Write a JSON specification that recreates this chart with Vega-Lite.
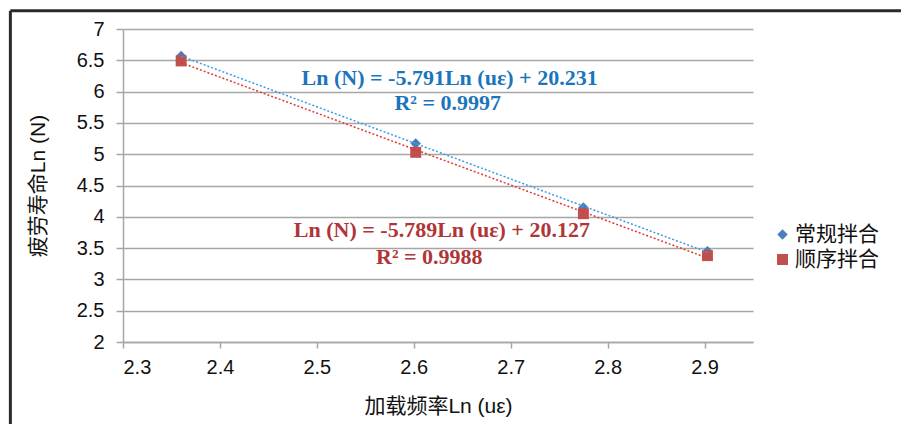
{
  "$schema": "https://vega.github.io/schema/vega-lite/v6.json",
  "width": 630,
  "height": 313,
  "autosize": {"type": "none"},
  "padding": {"left": 123, "top": 29, "right": 148, "bottom": 82},
  "background": "white",
  "config": {"view": {"stroke": null}, "font": "Liberation Sans, Noto Sans CJK SC"},
  "data": {
    "values": [
      {"x": 2.360, "y": 6.57, "series": "常规拌合"},
      {"x": 2.602, "y": 5.17, "series": "常规拌合"},
      {"x": 2.775, "y": 4.15, "series": "常规拌合"},
      {"x": 2.903, "y": 3.45, "series": "常规拌合"},
      {"x": 2.360, "y": 6.49, "series": "顺序拌合"},
      {"x": 2.602, "y": 5.03, "series": "顺序拌合"},
      {"x": 2.775, "y": 4.05, "series": "顺序拌合"},
      {"x": 2.903, "y": 3.38, "series": "顺序拌合"}
    ]
  },
  "layer": [
    {
      "mark": {"type": "point", "filled": true, "opacity": 1},
      "encoding": {
        "x": {
          "field": "x",
          "type": "quantitative",
          "scale": {"domain": [2.3, 2.95], "nice": false, "zero": false},
          "axis": {
            "values": [2.3, 2.4, 2.5, 2.6, 2.7, 2.8, 2.9],
            "tickCount": 20,
            "format": ".1f",
            "grid": false,
            "labelOverlap": false,
            "domainColor": "#a6a6a6",
            "domainWidth": 1.5,
            "tickColor": "#a6a6a6",
            "tickWidth": 1.5,
            "tickSize": 6,
            "labelFontSize": 20,
            "labelColor": "#111",
            "labelPadding": 9,
            "title": "加载频率Ln (uε)",
            "titleFontSize": 21,
            "titleFontWeight": "normal",
            "titleColor": "#111",
            "titlePadding": 18
          }
        },
        "y": {
          "field": "y",
          "type": "quantitative",
          "scale": {"domain": [2, 7], "nice": false, "zero": false},
          "axis": {
            "values": [2, 2.5, 3, 3.5, 4, 4.5, 5, 5.5, 6, 6.5, 7],
            "tickCount": 20,
            "format": ".1~f",
            "labelOverlap": false,
            "grid": true,
            "gridColor": "#a6a6a6",
            "gridWidth": 1.5,
            "domainColor": "#a6a6a6",
            "domainWidth": 1.5,
            "tickColor": "#a6a6a6",
            "tickWidth": 1.5,
            "tickSize": 7,
            "labelFontSize": 20,
            "labelColor": "#111",
            "labelPadding": 12,
            "title": "疲劳寿命Ln (N)",
            "titleFontSize": 21,
            "titleFontWeight": "normal",
            "titleColor": "#111",
            "titlePadding": 28
          }
        },
        "color": {
          "field": "series",
          "type": "nominal",
          "scale": {"domain": ["常规拌合", "顺序拌合"], "range": ["#4a7ebb", "#c0504d"]},
          "legend": {
            "title": null,
            "orient": "none",
            "legendX": 649,
            "legendY": 195,
            "labelFontSize": 21,
            "labelColor": "#111",
            "symbolSize": 80,
            "rowPadding": 3,
            "labelOffset": 2
          }
        },
        "shape": {
          "field": "series",
          "type": "nominal",
          "scale": {"domain": ["常规拌合", "顺序拌合"], "range": ["diamond", "square"]},
          "legend": null
        },
        "size": {
          "field": "series",
          "type": "nominal",
          "scale": {"domain": ["常规拌合", "顺序拌合"], "range": [110, 120]},
          "legend": null
        }
      }
    },
    {
      "data": {"values": [{}]},
      "mark": {"type": "rule", "stroke": "#2a2a2a", "strokeWidth": 3, "clip": false},
      "encoding": {
        "x": {"datum": 2.1838, "type": "quantitative"},
        "y": {"datum": 7.29, "type": "quantitative"},
        "x2": {"datum": 3.4}
      }
    },
    {
      "data": {"values": [{}]},
      "mark": {"type": "rule", "stroke": "#2a2a2a", "strokeWidth": 3, "clip": false},
      "encoding": {
        "x": {"datum": 2.1838, "type": "quantitative"},
        "y": {"datum": 7.29, "type": "quantitative"},
        "y2": {"datum": 0}
      }
    },
    {
      "transform": [
        {"filter": "datum.series === '常规拌合'"},
        {"regression": "y", "on": "x"}
      ],
      "mark": {"type": "line", "color": "#3d9be0", "strokeWidth": 1.5, "strokeDash": [2, 2]},
      "encoding": {
        "x": {"field": "x", "type": "quantitative"},
        "y": {"field": "y", "type": "quantitative"}
      }
    },
    {
      "transform": [
        {"filter": "datum.series === '顺序拌合'"},
        {"regression": "y", "on": "x"}
      ],
      "mark": {"type": "line", "color": "#e23a35", "strokeWidth": 1.5, "strokeDash": [2, 2]},
      "encoding": {
        "x": {"field": "x", "type": "quantitative"},
        "y": {"field": "y", "type": "quantitative"}
      }
    },
    {
      "data": {"values": [{}]},
      "mark": {"type": "text", "font": "Liberation Serif", "fontWeight": "bold", "fontSize": 22, "color": "#1b75bc", "align": "center", "baseline": "middle"},
      "encoding": {
        "x": {"datum": 2.637, "type": "quantitative"},
        "y": {"datum": 6.212, "type": "quantitative"},
        "text": {"value": "Ln (N) = -5.791Ln (uε) + 20.231"}
      }
    },
    {
      "data": {"values": [{}]},
      "mark": {"type": "text", "font": "Liberation Serif", "fontWeight": "bold", "fontSize": 22, "color": "#1b75bc", "align": "center", "baseline": "middle"},
      "encoding": {
        "x": {"datum": 2.635, "type": "quantitative"},
        "y": {"datum": 5.813, "type": "quantitative"},
        "text": {"value": "R² = 0.9997"}
      }
    },
    {
      "data": {"values": [{}]},
      "mark": {"type": "text", "font": "Liberation Serif", "fontWeight": "bold", "fontSize": 22, "color": "#b03538", "align": "center", "baseline": "middle"},
      "encoding": {
        "x": {"datum": 2.629, "type": "quantitative"},
        "y": {"datum": 3.789, "type": "quantitative"},
        "text": {"value": "Ln (N) = -5.789Ln (uε) + 20.127"}
      }
    },
    {
      "data": {"values": [{}]},
      "mark": {"type": "text", "font": "Liberation Serif", "fontWeight": "bold", "fontSize": 22, "color": "#b03538", "align": "center", "baseline": "middle"},
      "encoding": {
        "x": {"datum": 2.616, "type": "quantitative"},
        "y": {"datum": 3.363, "type": "quantitative"},
        "text": {"value": "R² = 0.9988"}
      }
    }
  ]
}
